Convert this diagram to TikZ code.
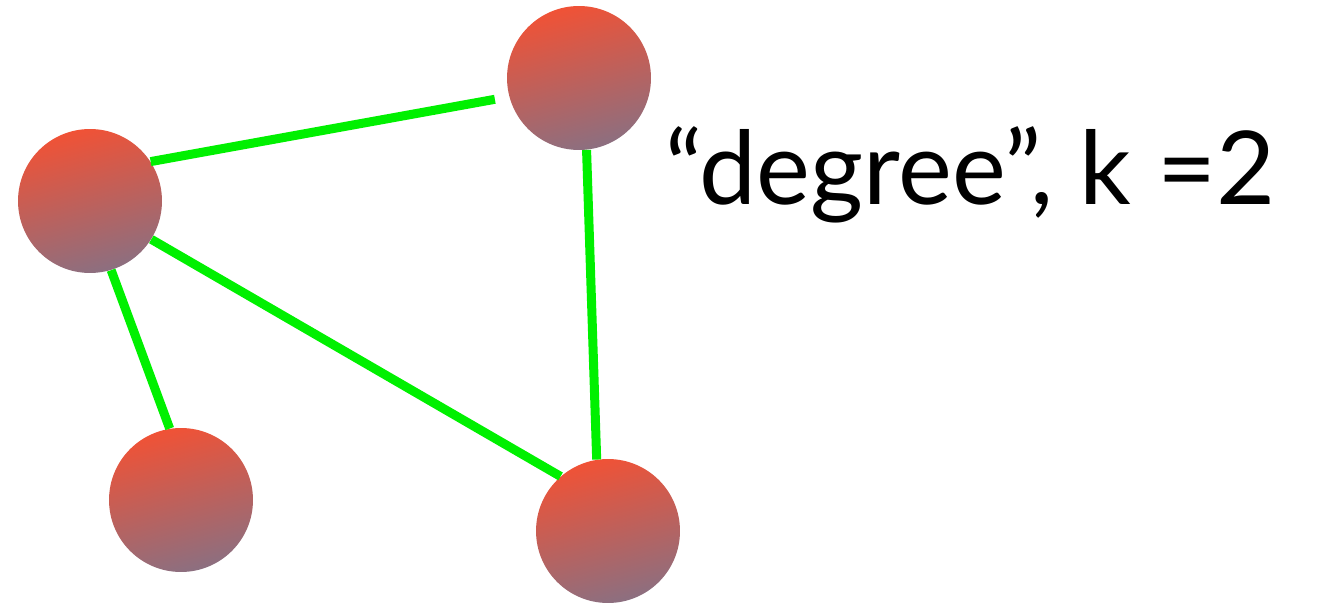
\documentclass[tikz,border=0pt]{standalone}
\usepackage{fontspec}
\setmainfont{Lato}
\usepackage{tikz}
\usetikzlibrary{positioning}
\definecolor{vtxtop}{HTML}{F05236}
\definecolor{vtxbot}{HTML}{8C6F80}
\definecolor{edgegreen}{HTML}{00F000}

\begin{document}
\begin{tikzpicture}[
  x=0.02cm, y=-0.02cm,
  vtx/.style={circle, minimum size=2.88cm, inner sep=0pt,
              top color=vtxtop, bottom color=vtxbot, shading angle=15},
  edg/.style={edgegreen, line width=0.18cm},
  lbl/.style={font=\fontsize{58}{62}\selectfont, anchor=base west, inner sep=0pt}
]
\useasboundingbox (0,0) rectangle (1318,604);

%% Vertices
\node[vtx] (v1) at (90,201)  {};
\node[vtx] (v2) at (579,78)  {};
\node[vtx] (v3) at (181,500) {};
\node[vtx] (v4) at (608,531) {};

%% Edges
\draw[edg, shorten >=0.29cm] (v1.33) -- (v2.195);
\draw[edg] (v2.276) -- (v4.99);
\draw[edg] (v1.287) -- (v3.99);
\draw[edg] (v1.328) -- (v4.131);

%% Label
\node[lbl] (deg) at (665,205) {“degree”, k =2};
\end{tikzpicture}
\end{document}
